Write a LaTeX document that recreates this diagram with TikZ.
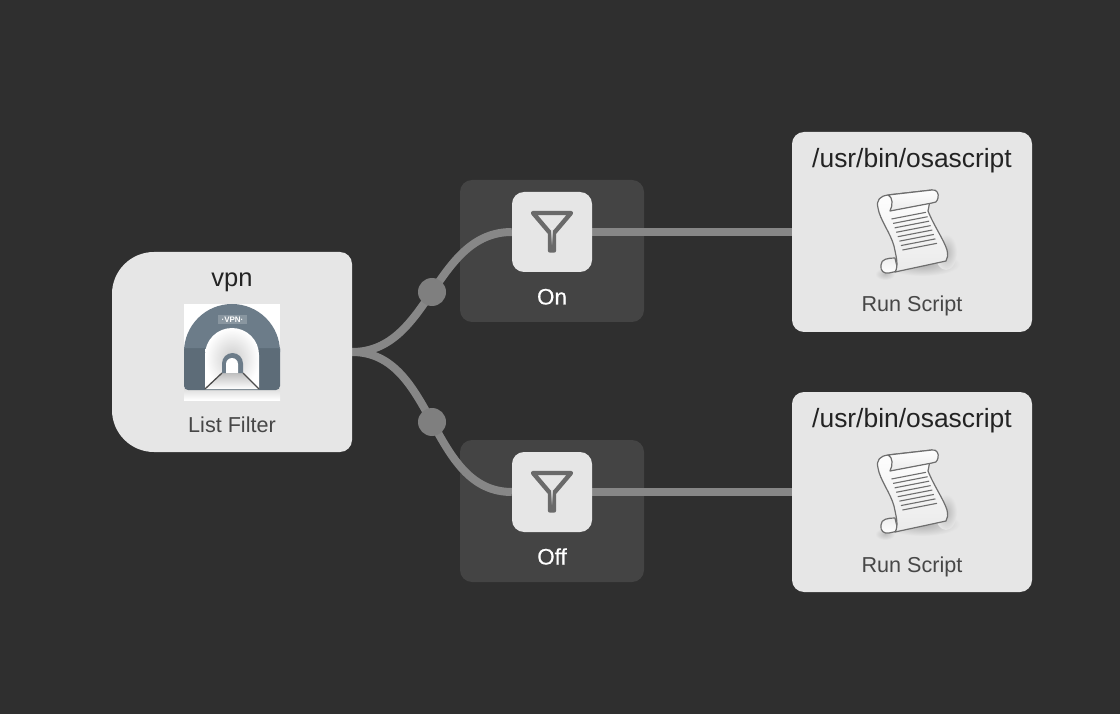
\documentclass[tikz,border=0pt]{standalone}
\usepackage{fontspec}
\setmainfont{Liberation Sans}
\definecolor{bgc}{HTML}{2F2F2F}
\definecolor{boxc}{HTML}{E6E6E6}
\definecolor{groupc}{HTML}{444444}
\definecolor{linec}{HTML}{878787}
\definecolor{dotc}{HTML}{7F7F7F}
\definecolor{titlec}{HTML}{232323}
\definecolor{subc}{HTML}{474747}
\definecolor{funnelc}{HTML}{6A6A6A}
\definecolor{archa}{HTML}{6C7C89}
\definecolor{archb}{HTML}{5D6C78}
\definecolor{inkc}{HTML}{6E6E6E}
\pgfdeclarelayer{backlayer}
\pgfdeclarelayer{wirelayer}
\pgfsetlayers{backlayer,wirelayer,main}
\tikzset{
  x=1pt,y=-1pt,
  blockbox/.style={fill=boxc,rounded corners=12pt,minimum width=240,minimum height=200,inner sep=0pt},
  groupbox/.style={fill=groupc,rounded corners=12pt,minimum width=184,minimum height=142,inner sep=0pt},
  filterbox/.style={fill=boxc,rounded corners=12pt,minimum width=80,minimum height=80,inner sep=0pt},
  wire/.style={draw=linec,line width=8pt},
  joint/.style={circle,fill=dotc,minimum size=28,inner sep=0pt},
  titletext/.style={anchor=base,inner sep=0pt,text=titlec,font=\fontsize{25.5}{30}\selectfont},
  pathtext/.style={anchor=base,inner sep=0pt,text=titlec,font=\fontsize{26.4}{30}\selectfont},
  subtext/.style={anchor=base,inner sep=0pt,text=subc,font=\fontsize{21.6}{26}\selectfont},
  grouptext/.style={anchor=base,inner sep=0pt,text=white,font=\fontsize{22.4}{26}\selectfont\addfontfeatures{FakeBold=0.5}},
  funnel/.style={draw=funnelc,line width=4.4pt,line join=round,line cap=round},
  scrollline/.style={draw=inkc,line width=1.1pt,line join=round},
  scrollfill/.style={draw=inkc,line width=1.2pt,line join=round},
}
\newcommand{\funnelicon}{%
  \draw[funnel] (533,213) -- (571,213) -- (554,233) -- (554,250.5) -- (550,250.5) -- (550,233) -- cycle;
  \fill[funnelc] (549,233) rectangle (555,250);
  \shade[top color=boxc,bottom color=funnelc] (551.2,229) rectangle (552.8,245);
}
\newcommand{\scrollicon}{%
  % shadow
  \shade[inner color=black!32,outer color=boxc] (922,264) ellipse (38 and 12);
  \shade[inner color=black!28,outer color=boxc] (946,252) ellipse (11 and 18);
  \shade[inner color=black!25,outer color=boxc] (885,274) ellipse (10 and 6);
  % bottom curl
  \shade[top color=boxc!70!white,bottom color=white,scrollfill] (895,258) .. controls (888,258) and (881,259) .. (881,265)
     .. controls (880,271) and (884,274) .. (889,273) -- (898,271) -- cycle;
  % paper
  \shade[top color=white,bottom color=boxc!85!white,scrollfill]
     (888,195) -- (932,190) -- (928,211)
     .. controls (934,226) and (944,240) .. (947,250)
     .. controls (948,255) and (948,258) .. (946,261)
     -- (895,272)
     .. controls (899,266) and (896,256) .. (894,246)
     .. controls (890,232) and (880,220) .. (878,208)
     .. controls (876,200) and (880,196) .. (888,195) -- cycle;
  % top curl
  \shade[top color=white,bottom color=boxc!80!white,scrollfill] (888,195) -- (932,190) .. controls (937,189) and (939,194) .. (938,198)
     .. controls (937,202) and (935,203) .. (932,203) -- (890,211)
     .. controls (893,205) and (893,197) .. (888,195) -- cycle;
  % text lines
  \foreach \i in {0,...,7} {
    \draw[scrollline] (891.5+\i*1.57,219.0+\i*4.43) -- (926+\i*1.57,212.3+\i*4.43);
  }
}
\begin{document}
\begin{tikzpicture}
\useasboundingbox (0,0) rectangle (1120,714);
\begin{pgfonlayer}{backlayer}
\fill[bgc] (0,0) rectangle (1120,714);
\node[groupbox] (gon)  at (552,251) {};
\node[groupbox] (goff) at (552,511) {};
\end{pgfonlayer}

% list filter block
\fill[boxc] (232,252) [rounded corners=42pt] -- (112,252) -- (112,452) [rounded corners=12pt] -- (232,452) -- (352,452) -- (352,252) -- cycle;
\node[minimum width=240,minimum height=200,inner sep=0pt] (vpn) at (232,352) {};

% blocks
\node[blockbox] (son)  at (912,232) {};
\node[blockbox] (soff) at (912,492) {};
\node[filterbox] (fon)  at (552,232) {};
\node[filterbox] (foff) at (552,492) {};
\node[joint] (jon)  at (432,292) {};
\node[joint] (joff) at (432,422) {};

% connectors
\begin{pgfonlayer}{wirelayer}
\draw[wire] (vpn.east) to[out=0,in=180] (fon.west);
\draw[wire] (vpn.east) to[out=0,in=180] (foff.west);
\draw[wire] (fon.east) -- (son.west);
\draw[wire] (foff.east) -- (soff.west);
\end{pgfonlayer}

% funnels
\funnelicon
\begin{scope}[yshift=-260pt]\funnelicon\end{scope}

% scrolls
\scrollicon
\begin{scope}[yshift=-260pt]\scrollicon\end{scope}

% tunnel icon
\fill[white] (184,304) rectangle (280,400);
\shade[top color=black!14,bottom color=white] (184,388) rectangle (280,400);
\fill[archb,rounded corners=4pt] (184,345) -- (280,345) -- (280,390) -- (184,390) -- cycle;
\fill[archa] (184,348) -- (184,352) arc[start angle=180,delta angle=180,radius=48] -- (280,348) -- cycle;
\shade[inner color=black!20,outer color=white]
   (205,389) -- (205,355) arc[start angle=180,delta angle=180,radius=27] -- (259,389) -- cycle;
\shade[top color=black!25,bottom color=white] (222,373) -- (243,373) -- (259,389) -- (205,389) -- cycle;
\draw[black!70,line width=1.3pt] (222,373) -- (205,389) (243,373) -- (259,389);
\fill[archa] (222,373) -- (222,363.5) arc[start angle=180,delta angle=180,radius=10.5] -- (243,373) -- cycle;
\fill[white] (226,373) -- (226,364) arc[start angle=180,delta angle=180,radius=6] -- (238,373) -- cycle;
\fill[white,opacity=.2] (218,315) rectangle (247,324);
\node[anchor=center,inner sep=0pt,text=white,font=\bfseries\fontsize{8}{9}\selectfont] (vpnbadge) at (232.5,319.5) {·VPN·};

% labels
\node[titletext] (tvpn) at (232,287) {vpn};
\node[subtext] (lvpn) at (232,432) {List Filter};
\node[pathtext] (ton) at (912,167.5) {/usr/bin/osascript};
\node[subtext] (lon) at (912,312) {Run Script};
\node[pathtext] (toff) at (912,427.5) {/usr/bin/osascript};
\node[subtext] (loff) at (912,572) {Run Script};
\node[grouptext] (gton) at (552,304.5) {On};
\node[grouptext] (gtoff) at (552,564.5) {Off};
\end{tikzpicture}
\end{document}
